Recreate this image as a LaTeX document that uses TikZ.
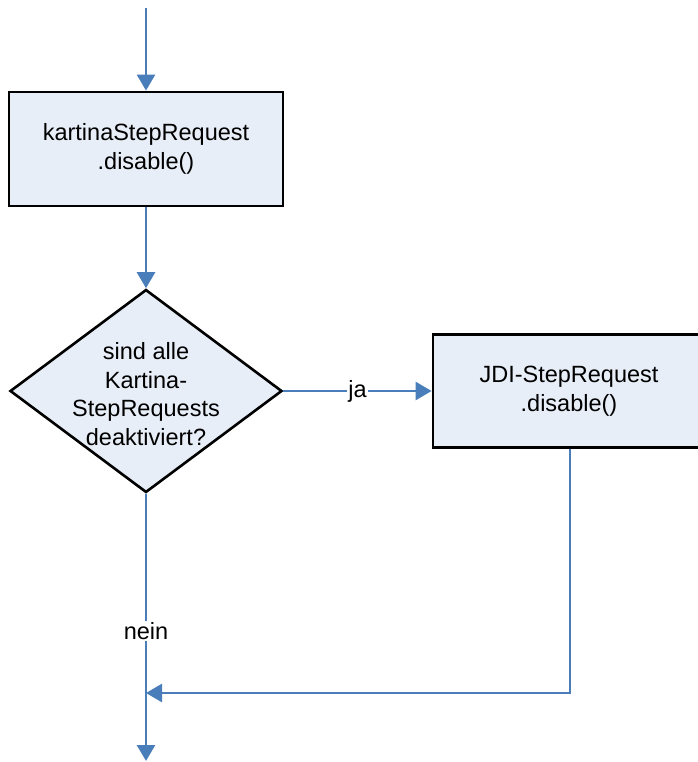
\documentclass[tikz,border=0pt]{standalone}
\usepackage{fontspec}
\setmainfont{Liberation Sans}
\usetikzlibrary{shapes.geometric,arrows.meta}
\definecolor{flowblue}{HTML}{4A7EBB}
\definecolor{boxfill}{HTML}{E8EEF7}
\tikzset{
  procbox/.style={draw=black, line width=2.8pt, fill=boxfill, rectangle, inner sep=0pt, align=center,
    font=\fontsize{23.5}{28.5}\selectfont},
  decbox/.style={draw=black, line width=2.6pt, fill=boxfill, diamond, inner sep=0pt},
  dectext/.style={align=center, inner sep=0pt, font=\fontsize{23.5}{28.5}\selectfont},
  flow/.style={draw=flowblue, line width=2.7pt, -{Triangle[width=18pt,length=16pt]}},
  lbl/.style={fill=white, inner sep=1.5pt, font=\fontsize{23.5}{28.5}\selectfont}
}
\begin{document}
\begin{tikzpicture}[x=1pt,y=-1pt]
\useasboundingbox (0,0) rectangle (697,762);
\coordinate (start) at (146,8);
\node[procbox, minimum width=274pt, minimum height=114pt] (box1) at (146,149) {\raisebox{-2pt}{kartinaStepRequest}\\\raisebox{-2pt}{.disable()}};
\node[decbox, minimum width=272pt, minimum height=203pt] (dec) at (146,391) {};
\node[dectext] (dectxt) at (146,394) {sind alle\\Kartina-\\StepRequests\\deaktiviert?};
\node[procbox, minimum width=272pt, minimum height=113pt] (box2) at (569,391) {\raisebox{-2pt}{JDI-StepRequest}\\\raisebox{-2pt}{.disable()}};
\coordinate (join) at (146,693);
\coordinate (corner) at (570,693);
\coordinate (bottom) at (146,761);
\draw[flow] (start) -- (box1.north);
\draw[flow] (box1.south) -- (dec.north);
\draw[flow] (dec.east) -- node[lbl, pos=0.5] (ja) {ja} (box2.west);
\draw[flow] (box2.south -| corner) -- (corner) -- (join);
\draw[flow] (dec.south) -- node[lbl, pos=0.513] (nein) {nein} (bottom);
\end{tikzpicture}
\end{document}
